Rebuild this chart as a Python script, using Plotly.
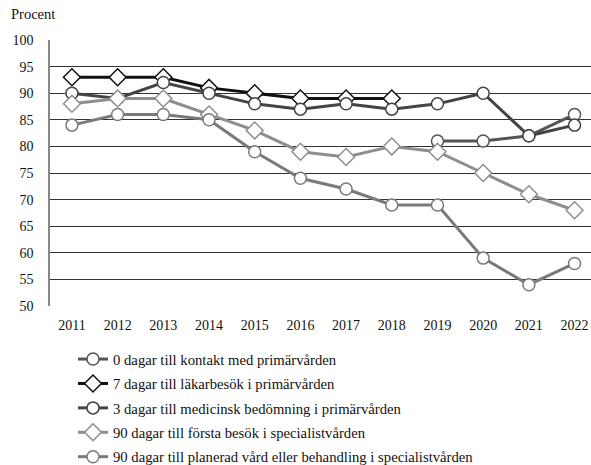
import plotly.graph_objects as go

years = ["2011", "2012", "2013", "2014", "2015", "2016", "2017", "2018", "2019", "2020", "2021", "2022"]

kontakt_0 = [None, None, None, None, None, None, None, None, 81, 81, 82, 86]
lakarbesok_7 = [93, 93, 93, 91, 90, 89, 89, 89, None, None, None, None]
bedomning_3 = [90, 89, 92, 90, 88, 87, 88, 87, 88, 90, 82, 84]
forsta_90 = [88, 89, 89, 86, 83, 79, 78, 80, 79, 75, 71, 68]
planerad_90 = [84, 86, 86, 85, 79, 74, 72, 69, 69, 59, 54, 58]

names = [
    "0 dagar till kontakt med primärvården",
    "7 dagar till läkarbesök i primärvården",
    "3 dagar till medicinsk bedömning i primärvården",
    "90 dagar till första besök i specialistvården",
    "90 dagar till planerad vård eller behandling i specialistvården",
]
series = [kontakt_0, lakarbesok_7, bedomning_3, forsta_90, planerad_90]
colors = ["#555555", "#111111", "#444444", "#8e8e8e", "#7a7a7a"]
symbols = ["circle", "diamond", "circle", "diamond", "circle"]
sizes = [12, 13, 12, 13, 12]

font = "Liberation Serif, DejaVu Serif, serif"

fig = go.Figure()
for i in range(5):
    fig.add_trace(go.Scatter(
        x=years, y=series[i], name=names[i], mode="lines+markers",
        line=dict(color=colors[i], width=3),
        marker=dict(symbol=symbols[i], size=sizes[i], color="white",
                    line=dict(color=colors[i], width=1.5)),
        legendgroup=str(i), legendrank=i + 1,
        connectgaps=False,
    ))

fig.update_layout(
    width=591, height=465,
    margin=dict(l=50, r=0, t=40, b=159, autoexpand=False),
    plot_bgcolor="white", paper_bgcolor="white",
    font=dict(family=font, size=14, color="#111111"),
    showlegend=True,
    legend=dict(xref="container", yref="container", x=73 / 591, y=1 - 343 / 465,
                xanchor="left", yanchor="top",
                font=dict(family=font, size=14.7, color="#111111"),
                tracegroupgap=2.3, itemwidth=30, bgcolor="rgba(0,0,0,0)"),
    annotations=[dict(text="Procent", xref="paper", yref="paper", x=-0.075, y=1.06,
                      xanchor="left", yanchor="bottom", showarrow=False,
                      font=dict(family=font, size=14.5, color="#111111"))],
)
fig.update_xaxes(type="category", range=[-0.48, 11.36], showgrid=False, ticks="",
                 showline=False, zeroline=False, tickfont=dict(size=14),
                 ticklabelstandoff=9)
fig.update_yaxes(range=[50, 100], dtick=5, showgrid=True, gridcolor="#333333", gridwidth=1,
                 showline=True, linecolor="#888888", linewidth=1.5, ticks="", zeroline=False,
                 tickfont=dict(size=14), ticklabelstandoff=12)

fig.write_html("out.html", config={"displayModeBar": False},
               post_script="document.body.style.margin='0';")
